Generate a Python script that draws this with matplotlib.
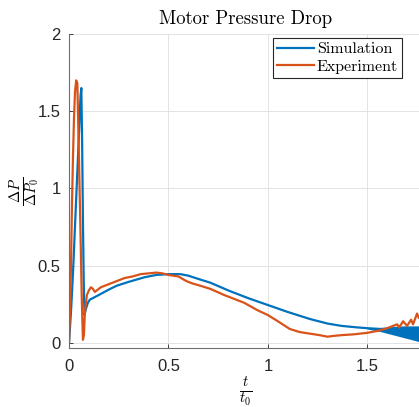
import numpy as np
import matplotlib
matplotlib.use("Agg")
import matplotlib.pyplot as plt

# experiment curve (t/t0, dP/dP0)
exp_t = [0, 0.005, 0.01, 0.015, 0.02, 0.025, 0.03, 0.036, 0.042, 0.05, 0.058, 0.064,
         0.07, 0.075, 0.08, 0.09, 0.10, 0.11, 0.12, 0.13, 0.14, 0.16, 0.18, 0.20,
         0.24, 0.28, 0.32, 0.36, 0.40, 0.44, 0.47, 0.50, 0.55, 0.59, 0.62, 0.66,
         0.71, 0.78, 0.88, 0.95, 1.0, 1.05, 1.11, 1.16, 1.21, 1.26, 1.30, 1.33,
         1.37, 1.43, 1.5, 1.56, 1.6, 1.63, 1.65, 1.66, 1.68, 1.70, 1.72, 1.73,
         1.75, 1.76, 1.78]
exp_p = [0, 0.2, 0.5, 0.9, 1.2, 1.45, 1.62, 1.70, 1.68, 1.2, 0.7, 0.3,
         0.02, 0.05, 0.2, 0.31, 0.34, 0.36, 0.35, 0.33, 0.34, 0.36, 0.37, 0.38,
         0.40, 0.42, 0.43, 0.445, 0.45, 0.455, 0.45, 0.44, 0.43, 0.40, 0.385, 0.37,
         0.35, 0.31, 0.26, 0.21, 0.18, 0.14, 0.09, 0.07, 0.06, 0.05, 0.04, 0.045,
         0.05, 0.055, 0.065, 0.08, 0.095, 0.11, 0.12, 0.10, 0.14, 0.11, 0.15, 0.12,
         0.19, 0.16, 0.2]

# simulation curve
sim_t = [0, 0.01, 0.02, 0.03, 0.04, 0.05, 0.058, 0.062, 0.066, 0.07, 0.074, 0.078,
         0.085, 0.095, 0.105, 0.12, 0.15, 0.2, 0.24, 0.3, 0.38, 0.44, 0.5, 0.56,
         0.6, 0.66, 0.71, 0.8, 0.9, 1.0, 1.1, 1.21, 1.3, 1.37, 1.45, 1.5,
         1.56, 1.62, 1.7, 1.78]
sim_p = [0, 0.2, 0.45, 0.75, 1.05, 1.35, 1.6, 1.65, 1.3, 0.8, 0.4, 0.18,
         0.22, 0.26, 0.28, 0.29, 0.31, 0.345, 0.37, 0.395, 0.425, 0.44, 0.445, 0.445,
         0.435, 0.41, 0.39, 0.34, 0.29, 0.245, 0.2, 0.155, 0.125, 0.11, 0.1, 0.095,
         0.09, 0.085, 0.075, 0.065]

# noisy band of the simulation at late times
band_t = [1.5, 1.56, 1.62, 1.68, 1.74, 1.78]
band_hi = [0.1, 0.1, 0.105, 0.11, 0.11, 0.11]
band_lo = [0.09, 0.075, 0.055, 0.035, 0.015, 0.0]

blue = "#0072BD"
orange = "#D95319"
dark = "#262626"

plt.rcParams["mathtext.fontset"] = "cm"

fig = plt.figure(figsize=(4.19, 4.07), dpi=100)
ax = fig.add_axes([69 / 419, 59.5 / 407, 354 / 419, 313.5 / 407])

ax.plot(sim_t, sim_p, color=blue, lw=1.6, label="Simulation")
ax.fill_between(band_t, band_lo, band_hi, color=blue, lw=0)
ax.plot(exp_t, exp_p, color=orange, lw=1.6, label="Experiment")

ax.set_xlim(0, 1.78)
ax.set_ylim(-0.03, 2)
ax.set_xticks([0, 0.5, 1, 1.5])
ax.set_yticks([0, 0.5, 1, 1.5, 2])
ax.set_xticklabels(["0", "0.5", "1", "1.5"])
ax.set_yticklabels(["0", "0.5", "1", "1.5", "2"])
for lab in ax.get_xticklabels() + ax.get_yticklabels():
    lab.set_fontfamily("Liberation Sans")
    lab.set_fontsize(12)
ax.tick_params(direction="in", length=3, width=0.6, colors=dark)
ax.tick_params(axis="x", pad=8)
ax.tick_params(axis="y", pad=6)
ax.grid(True, color="#e3e3e3", lw=0.7)
ax.set_axisbelow(True)
for s in ["top", "right"]:
    ax.spines[s].set_visible(False)
for s in ["left", "bottom"]:
    ax.spines[s].set_color("#6e6e6e")
    ax.spines[s].set_linewidth(0.8)

ax.set_title("Motor Pressure Drop", fontfamily="cmr10", fontsize=13.5, pad=7)
ax.set_xlabel(r"$\frac{t}{t_0}$", fontsize=15, labelpad=1)
ax.set_ylabel(r"$\frac{\Delta P}{\Delta P_0}$", fontsize=15, labelpad=-3)

leg = ax.legend(loc="upper right", bbox_to_anchor=(402 / 419, 1 - 38 / 407),
                bbox_transform=fig.transFigure, fancybox=False, framealpha=1,
                edgecolor=dark, prop={"family": "cmr10", "size": 11.5},
                handlelength=2.3, handletextpad=0.2, borderpad=0.25,
                labelspacing=0.2, borderaxespad=0)
leg.get_frame().set_linewidth(0.8)

fig.savefig("out.png", dpi=100)
